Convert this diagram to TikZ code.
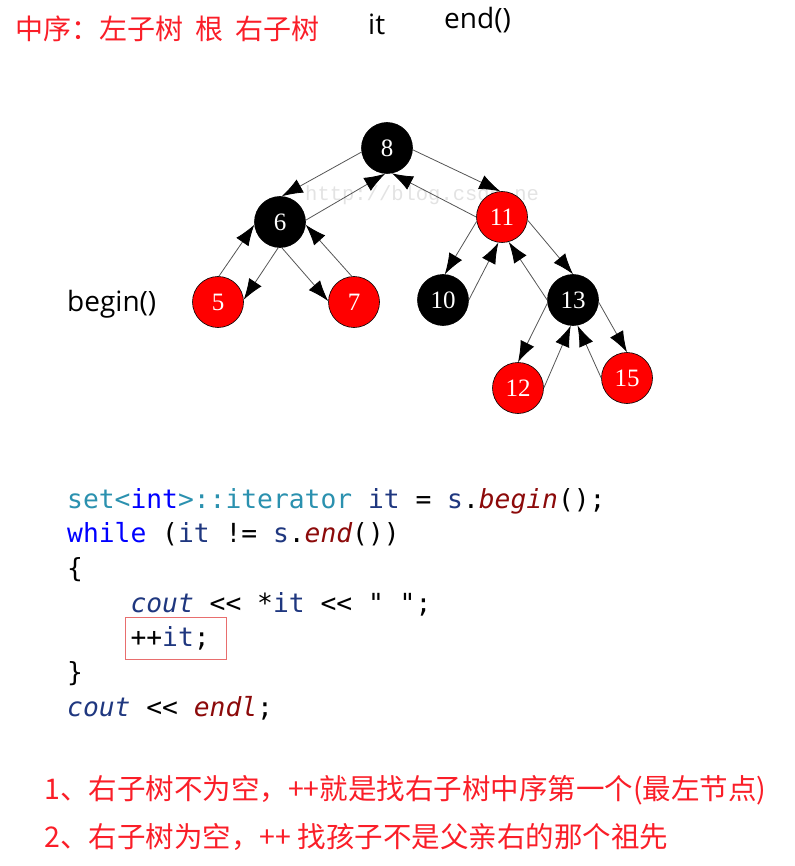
\documentclass[tikz,border=0pt]{standalone}
\usepackage{fontspec}
\setmainfont{Open Sans}
\newfontfamily\cjk{Noto Sans CJK SC}
\newfontfamily\codefont{DejaVu Sans Mono}[Ligatures=TeXOff]
\newfontfamily\numfont{Liberation Serif}
\newfontfamily\wmfont{Liberation Mono}
\usetikzlibrary{arrows.meta}
\definecolor{hdrred}{RGB}{250,30,40}
\definecolor{nodered}{RGB}{255,0,0}
\definecolor{edgegray}{RGB}{85,85,85}
\definecolor{cteal}{RGB}{43,145,175}
\definecolor{cblue}{RGB}{0,0,255}
\definecolor{cnavy}{RGB}{31,55,127}
\definecolor{cmaroon}{RGB}{140,10,10}
\definecolor{boxred}{RGB}{232,110,110}
\tikzset{
  rbnode/.style={circle, minimum size=51pt, inner sep=0pt, draw=black, line width=0.6pt,
    font=\numfont\fontsize{25}{25}\selectfont, text=white},
  bnode/.style={rbnode, fill=black},
  rnode/.style={rbnode, fill=nodered},
  treelink/.style={draw=edgegray, line width=0.8pt, -{Latex[length=21pt,width=15pt,color=black]}},
  codeline/.style={anchor=base west, inner sep=0pt, font=\codefont\fontsize{26.3}{30}\selectfont},
  cjktext/.style={anchor=base west, inner sep=0pt, text=hdrred},
  latin/.style={anchor=base west, inner sep=0pt, font=\fontsize{28}{32}\selectfont, text=black}
}
\begin{document}
\begin{tikzpicture}[x=1pt,y=-1pt]
\useasboundingbox (0,0) rectangle (794,866);

% header
\node[cjktext, font=\cjk\fontsize{28}{34}\selectfont] (hdr) at (15,39.5) {中序：左子树\hspace{12pt}根\hspace{12pt}右子树};
\node[latin] (itlbl) at (368,35) {it};
\node[latin] (endlbl) at (444,29) {end()};
\node[latin] (beginlbl) at (67,311) {begin()};

% watermark
\node[anchor=base west, inner sep=0pt, text=gray!22, font=\wmfont\fontsize{20.5}{20}\selectfont] (wm) at (305,201) {http://blog.csdn.ne};

% tree nodes
\node[bnode] (n8) at (387,148) {8};
\node[bnode] (n6) at (280,222) {6};
\node[rnode] (n11) at (502,217) {11};
\node[rnode] (n5) at (218,302) {5};
\node[rnode] (n7) at (354,302) {7};
\node[bnode] (n10) at (443,300) {10};
\node[bnode] (n13) at (573,300) {13};
\node[rnode] (n12) at (518,388) {12};
\node[rnode] (n15) at (627,378) {15};

% edges
\draw[treelink] (n8.189) -- (n6.86);
\draw[treelink] (n6.4) -- (n8.266);
\draw[treelink] (n8.356) -- (n11.94);
\draw[treelink] (n11.180) -- (n8.281);
\draw[treelink] (n6.266) -- (n5.5);
\draw[treelink] (n5.88) -- (n6.186);
\draw[treelink] (n6.274) -- (n7.178);
\draw[treelink] (n7.95) -- (n6.354);
\draw[treelink] (n11.190) -- (n10.86);
\draw[treelink] (n10.0) -- (n11.262);
\draw[treelink] (n11.353) -- (n13.90);
\draw[treelink] (n13.180) -- (n11.285);
\draw[treelink] (n13.187) -- (n12.90);
\draw[treelink] (n12.0) -- (n13.265);
\draw[treelink] (n13.355) -- (n15.90);
\draw[treelink] (n15.180) -- (n13.280);

% code
\node[codeline] (c1) at (67,508) {\textcolor{cteal}{set<}\textcolor{cblue}{int}\textcolor{cteal}{>::iterator} \textcolor{cnavy}{it} = \textcolor{cnavy}{s}.\textcolor{cmaroon}{\itshape begin}();};
\node[codeline] (c2) at (67,542.7) {\textcolor{cblue}{while} (\textcolor{cnavy}{it} != \textcolor{cnavy}{s}.\textcolor{cmaroon}{\itshape end}())};
\node[codeline] (c3) at (67,577.4) {\{};
\node[codeline] (c4) at (130.3,612) {\textcolor{cnavy}{\itshape cout} << *\textcolor{cnavy}{it} << " ";};
\node[codeline] (c5) at (130.3,646.8) {++\textcolor{cnavy}{it};};
\node[codeline] (c6) at (67,681.5) {\}};
\node[codeline] (c7) at (67,716) {\textcolor{cnavy}{\itshape cout} << \textcolor{cmaroon}{\itshape endl};};

\node[draw=boxred, line width=1pt, inner sep=0pt, minimum width=101pt, minimum height=42pt, anchor=north west] (hlbox) at (125,617) {};

% bottom notes
\node[cjktext, font=\cjk\fontsize{28.5}{34}\selectfont] (note1) at (44,799) {1、右子树不为空，++就是找右子树中序第一个(最左节点)};
\node[cjktext, font=\cjk\fontsize{28.5}{34}\selectfont] (note2) at (44,847) {2、右子树为空，++ 找孩子不是父亲右的那个祖先};
\end{tikzpicture}
\end{document}
